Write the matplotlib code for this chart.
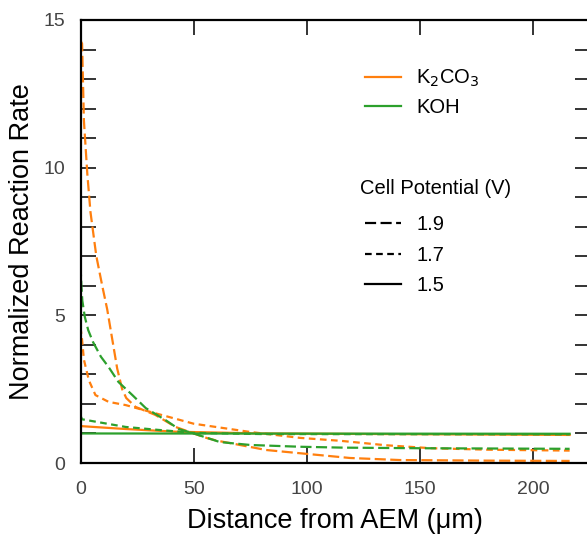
import matplotlib
matplotlib.use("Agg")
import matplotlib.pyplot as plt
from matplotlib.lines import Line2D
from matplotlib.ticker import MultipleLocator

plt.rcParams['font.family'] = ['Liberation Sans', 'DejaVu Sans']

# ---- data ----
k2co3_19_x = [0, 0.7, 1.5, 3, 4.4, 6.3, 7, 9.6, 11.8, 14, 16.2, 18.4, 20.2, 24.3, 33, 42, 50, 55.6, 60, 67, 82, 97, 119, 141, 180, 216]
k2co3_19_y = [14.3, 14.2, 11.6, 9.8, 8.5, 7.4, 7.0, 6.0, 5.2, 4.2, 3.2, 2.5, 2.2, 1.9, 1.63, 1.22, 1.0, 0.85, 0.76, 0.66, 0.44, 0.33, 0.17, 0.1, 0.08, 0.07]

k2co3_17_x = [0, 0.7, 1.5, 3.7, 6.6, 12.4, 20, 27.5, 39, 50, 75, 97, 115, 135, 155, 180, 216]
k2co3_17_y = [4.6, 4.17, 3.5, 2.8, 2.3, 2.07, 1.96, 1.8, 1.56, 1.33, 1.05, 0.85, 0.75, 0.6, 0.5, 0.45, 0.42]

k2co3_15_x = [0, 20, 42, 80, 216]
k2co3_15_y = [1.25, 1.15, 1.06, 1.0, 0.95]

koh_19_x = [0, 0.4, 0.8, 1.9, 3.4, 5.5, 9, 12.4, 16.8, 22.9, 28.8, 37.6, 43.4, 50, 61.5, 75, 97, 116, 150, 216]
koh_19_y = [6.7, 6.0, 5.5, 4.95, 4.5, 4.1, 3.6, 3.25, 2.74, 2.3, 1.86, 1.45, 1.15, 1.0, 0.71, 0.61, 0.55, 0.52, 0.5, 0.48]

koh_17_x = [0, 0.7, 6.6, 20, 34.5, 50, 80, 216]
koh_17_y = [1.6, 1.48, 1.4, 1.22, 1.12, 1.02, 0.98, 0.97]

koh_15_x = [0, 216]
koh_15_y = [1.0, 0.99]

x_ticks = [0, 50, 100, 150, 200]
y_ticks = [0, 5, 10, 15]
solutions = ["K$_2$CO$_3$", "KOH"]
potential_title = "Cell Potential (V)"
potentials = ["1.9", "1.7", "1.5"]

# ---- styling ----
ORANGE = "#ff7f0e"
GREEN = "#2ca02c"
DASH = (0, (5, 2))
DOT = (0, (3, 2))
LW = 1.6
W, H = 587, 535

fig = plt.figure(figsize=(W / 100, H / 100), dpi=100)
ax = fig.add_axes([80.5 / W, 72 / H, (590 - 80.5) / W, (463 - 20) / H])

ax.plot(k2co3_15_x, k2co3_15_y, color=ORANGE, lw=LW, ls='-')
ax.plot(k2co3_17_x, k2co3_17_y, color=ORANGE, lw=LW, ls=DOT)
ax.plot(k2co3_19_x, k2co3_19_y, color=ORANGE, lw=LW, ls=DASH)
ax.plot(koh_17_x, koh_17_y, color=GREEN, lw=LW, ls=DOT)
ax.plot(koh_19_x, koh_19_y, color=GREEN, lw=LW, ls=DASH)
ax.plot(koh_15_x, koh_15_y, color=GREEN, lw=LW, ls='-')

ax.set_xlim(0, 225)
ax.set_ylim(0, 15)
ax.set_xticks(x_ticks)
ax.set_yticks(y_ticks)
ax.yaxis.set_minor_locator(MultipleLocator(1))

for s in ax.spines.values():
    s.set_linewidth(1.6)
    s.set_color('black')

ax.tick_params(axis='both', which='both', direction='in', length=11, width=1.4,
               color='#333333', top=True, right=True)
ax.tick_params(axis='both', which='major', labelsize=14, labelcolor='#444444', pad=11)
ax.tick_params(axis='x', which='major', pad=13)

ax.set_xlabel("Distance from AEM (\u03bcm)", fontsize=19.5, labelpad=7)
ax.set_ylabel("Normalized Reaction Rate", fontsize=19.5, labelpad=6)


def figpx(x, y_from_top):
    return (x / W, 1 - y_from_top / H)


# legends
h1 = [Line2D([], [], color=ORANGE, lw=LW), Line2D([], [], color=GREEN, lw=LW)]
leg1 = ax.legend(h1, solutions, loc='upper left', bbox_to_anchor=figpx(365, 68),
                 bbox_transform=fig.transFigure, frameon=False, fontsize=14.5,
                 handlelength=1.8, handletextpad=0.75, labelspacing=0.45,
                 borderpad=0, borderaxespad=0)
ax.add_artist(leg1)

fig.text(*figpx(360, 188), potential_title, fontsize=14.5, ha='left', va='center')

h2 = [Line2D([], [], color='black', lw=LW, ls=DASH),
      Line2D([], [], color='black', lw=LW, ls=DOT),
      Line2D([], [], color='black', lw=LW, ls='-')]
leg2 = ax.legend(h2, potentials, loc='upper left', bbox_to_anchor=figpx(365, 215),
                 bbox_transform=fig.transFigure, frameon=False, fontsize=14.5,
                 handlelength=1.8, handletextpad=0.75, labelspacing=0.58,
                 borderpad=0, borderaxespad=0)

fig.savefig("out.png", dpi=100)
